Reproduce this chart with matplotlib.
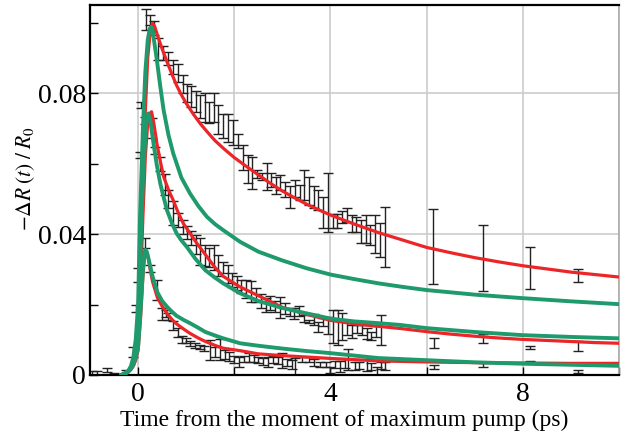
import matplotlib
matplotlib.use('Agg')
import matplotlib.pyplot as plt
from matplotlib.ticker import MultipleLocator

plt.rcParams['font.family'] = ['Liberation Serif', 'DejaVu Serif']
plt.rcParams['font.serif'] = ['Liberation Serif', 'DejaVu Serif']
plt.rcParams['mathtext.fontset'] = 'stix'

SERIF = ['Liberation Serif', 'DejaVu Serif']

# 数据组 A（最高）
a_t = [0.17, 0.25, 0.33, 0.42, 0.52, 0.63, 0.73, 0.83, 0.93, 1.01, 1.10, 1.20, 1.29, 1.39,
       1.48, 1.57, 1.67, 1.77, 1.87, 1.98, 2.08, 2.18, 2.28, 2.37, 2.47, 2.57, 2.67, 2.77,
       2.87, 2.96, 3.06, 3.16, 3.26, 3.36, 3.46, 3.55, 3.65, 3.75, 3.85, 3.95, 4.05, 4.14,
       4.24, 4.34, 4.44, 4.54, 4.64, 4.73, 4.83, 4.93, 5.03, 5.13, 6.14, 7.17, 8.15, 9.15]
a_y = [0.1009, 0.1007, 0.0985, 0.0924, 0.0915, 0.0898, 0.0875, 0.0857, 0.0825, 0.0800,
       0.0790, 0.0775, 0.0761, 0.0759, 0.0745, 0.0759, 0.0725, 0.0707, 0.0700, 0.0688,
       0.0664, 0.0617, 0.0584, 0.0574, 0.0570, 0.0563, 0.0563, 0.0553, 0.0539, 0.0546,
       0.0527, 0.0504, 0.0530, 0.0518, 0.0539, 0.0522, 0.0504, 0.0496, 0.0461, 0.0489,
       0.0437, 0.0437, 0.0447, 0.0454, 0.0430, 0.0428, 0.0407, 0.0414, 0.0397, 0.0400,
       0.0383, 0.0392, 0.0364, 0.0332, 0.0303, 0.0282]
a_e = [0.0031, 0.0014, 0.0020, 0.0031, 0.0020, 0.0019, 0.0020, 0.0025, 0.0025, 0.0026,
       0.0030, 0.0030, 0.0033, 0.0040, 0.0030, 0.0040, 0.0040, 0.0035, 0.0040, 0.0035,
       0.0021, 0.0035, 0.0040, 0.0045, 0.0012, 0.0010, 0.0038, 0.0019, 0.0024, 0.0021,
       0.0021, 0.0031, 0.0024, 0.0021, 0.0043, 0.0040, 0.0031, 0.0028, 0.0045, 0.0083,
       0.0021, 0.0021, 0.0017, 0.0019, 0.0024, 0.0021, 0.0033, 0.0040, 0.0028, 0.0054,
       0.0047, 0.0085, 0.0106, 0.0093, 0.0059, 0.0018]

# 数据组 B（中间）
b_t = [0.03, 0.06, 0.14, 0.28, 0.35, 0.45, 0.55, 0.63, 0.73, 0.83, 0.94, 1.01, 1.10, 1.20,
       1.29, 1.39, 1.48, 1.57, 1.67, 1.77, 1.87, 1.96, 2.06, 2.15, 2.25, 2.35, 2.45, 2.55,
       2.65, 2.75, 2.85, 2.95, 3.05, 3.15, 3.25, 3.35, 3.45, 3.55, 3.65, 3.75, 3.85, 3.95,
       4.05, 4.15, 4.25, 4.35, 4.45, 4.55, 4.65, 4.75, 4.85, 4.95, 5.05, 6.16, 7.17, 8.15,
       9.15]
b_y = [0.0624, 0.0767, 0.0723, 0.0700, 0.0638, 0.0600, 0.0540, 0.0500, 0.0460, 0.0440,
       0.0420, 0.0405, 0.0390, 0.0370, 0.0350, 0.0340, 0.0333, 0.0333, 0.0310, 0.0305,
       0.0287, 0.0270, 0.0262, 0.0252, 0.0244, 0.0237, 0.0228, 0.0210, 0.0199, 0.0205,
       0.0195, 0.0191, 0.0188, 0.0178, 0.0175, 0.0182, 0.0160, 0.0152, 0.0158, 0.0137,
       0.0150, 0.0140, 0.0137, 0.0135, 0.0137, 0.0132, 0.0123, 0.0130, 0.0128, 0.0118,
       0.0111, 0.0124, 0.0128, 0.0091, 0.0103, 0.0078, 0.0083]
b_e = [0.0008, 0.0008, 0.0010, 0.0028, 0.0010, 0.0020, 0.0030, 0.0025, 0.0033, 0.0020,
       0.0020, 0.0019, 0.0020, 0.0028, 0.0038, 0.0030, 0.0026, 0.0035, 0.0030, 0.0016,
       0.0026, 0.0020, 0.0020, 0.0018, 0.0025, 0.0030, 0.0020, 0.0020, 0.0019, 0.0020,
       0.0015, 0.0030, 0.0015, 0.0012, 0.0015, 0.0014, 0.0010, 0.0005, 0.0015, 0.0014,
       0.0012, 0.0025, 0.0047, 0.0050, 0.0038, 0.0018, 0.0018, 0.0012, 0.0015, 0.0015,
       0.0012, 0.0015, 0.0043, 0.0015, 0.0013, 0.0003, 0.0014]

# 数据组 C（最低）
c_t = [-0.96, -0.85, -0.65, -0.50, -0.25, -0.10, -0.05, 0.00, 0.15, 0.25, 0.39, 0.49, 0.59,
       0.63, 0.73, 0.83, 0.91, 1.00, 1.08, 1.18, 1.28, 1.38, 1.50, 1.60, 1.70, 1.80, 1.90,
       2.00, 2.10, 2.20, 2.30, 2.40, 2.50, 2.60, 2.70, 2.80, 2.90, 3.00, 3.10, 3.20, 3.26,
       3.40, 3.56, 3.66, 3.78, 3.90, 4.00, 4.10, 4.20, 4.30, 4.37, 4.50, 4.60, 4.75, 4.85,
       4.96, 5.06, 5.13, 6.16, 7.17, 8.15, 9.15]
c_y = [0.0006, 0.0006, 0.0014, 0.0003, 0.0005, 0.0065, 0.0190, 0.0285, 0.0375, 0.0303,
       0.0241, 0.0173, 0.0175, 0.0165, 0.0140, 0.0120, 0.0100, 0.0098, 0.0090, 0.0084,
       0.0080, 0.0075, 0.0071, 0.0065, 0.0072, 0.0058, 0.0052, 0.0045, 0.0038, 0.0045,
       0.0050, 0.0046, 0.0042, 0.0038, 0.0038, 0.0045, 0.0041, 0.0041, 0.0035, 0.0030,
       0.0025, 0.0044, 0.0044, 0.0035, 0.0029, 0.0030, 0.0014, 0.0030, 0.0024, 0.0032,
       0.0045, 0.0026, 0.0028, 0.0031, 0.0025, 0.0012, 0.0028, 0.0026, 0.0023, 0.0028,
       0.0038, 0.0010]
c_e = [0.0005, 0.0005, 0.0006, 0.0002, 0.0008, 0.0015, 0.0010, 0.0020, 0.0015, 0.0010,
       0.0028, 0.0017, 0.0010, 0.0010, 0.0012, 0.0012, 0.0010, 0.0008, 0.0007, 0.0007,
       0.0005, 0.0007, 0.0028, 0.0015, 0.0030, 0.0012, 0.0012, 0.0010, 0.0014, 0.0008,
       0.0012, 0.0010, 0.0008, 0.0010, 0.0014, 0.0010, 0.0010, 0.0020, 0.0010, 0.0012,
       0.0024, 0.0008, 0.0006, 0.0010, 0.0007, 0.0006, 0.0009, 0.0010, 0.0016, 0.0012,
       0.0030, 0.0012, 0.0010, 0.0020, 0.0010, 0.0012, 0.0010, 0.0012, 0.0006, 0.0005,
       0.0002, 0.0003]

# 红色拟合曲线
ra_t = [-0.35, -0.3, -0.25, -0.2, -0.15, -0.1, -0.05, 0.0, 0.05, 0.1, 0.15, 0.2, 0.25, 0.3,
        0.35, 0.4, 0.5, 0.6, 0.7, 0.8, 0.9, 1.0, 1.15, 1.3, 1.45, 1.6, 1.8, 2.0, 2.25, 2.5,
        2.75, 3.0, 3.25, 3.5, 3.75, 4.0, 4.5, 5.0, 5.5, 6.0, 6.5, 7.0, 7.5, 8.0, 8.5, 9.0,
        9.5, 10.0]
ra_y = [0.0, 0.0003, 0.0007, 0.0012, 0.0022, 0.0040, 0.0070, 0.0120, 0.0300, 0.0550,
        0.0750, 0.0900, 0.0970, 0.0998, 0.0987, 0.0965, 0.0925, 0.0889, 0.0855, 0.0822,
        0.0795, 0.0771, 0.0740, 0.0712, 0.0688, 0.0665, 0.0640, 0.0617, 0.0592, 0.0568,
        0.0544, 0.0522, 0.0503, 0.0485, 0.0469, 0.0454, 0.0428, 0.0404, 0.0383, 0.0362,
        0.0347, 0.0333, 0.0321, 0.0310, 0.0301, 0.0292, 0.0285, 0.0278]
rb_t = [-0.35, -0.3, -0.25, -0.2, -0.15, -0.1, -0.05, 0.0, 0.05, 0.1, 0.15, 0.2, 0.24, 0.28,
        0.33, 0.39, 0.46, 0.53, 0.63, 0.73, 0.83, 0.94, 1.08, 1.22, 1.43, 1.6, 1.77, 2.0,
        2.12, 2.5, 3.0, 3.5, 4.0, 4.5, 5.0, 5.45, 6.0, 6.5, 7.0, 7.5, 8.0, 8.5, 9.0, 9.5,
        10.0]
rb_y = [0.0, 0.0003, 0.0006, 0.0010, 0.0018, 0.0030, 0.0055, 0.0100, 0.0250, 0.0450,
        0.0620, 0.0715, 0.0742, 0.0747, 0.0712, 0.0657, 0.0608, 0.0563, 0.0526, 0.0496,
        0.0462, 0.0430, 0.0402, 0.0374, 0.0336, 0.0305, 0.0280, 0.0260, 0.0250, 0.0225,
        0.0192, 0.0172, 0.0155, 0.0145, 0.0138, 0.0132, 0.0123, 0.0116, 0.0110, 0.0105,
        0.0101, 0.0098, 0.0095, 0.0092, 0.0090]
rc_t = [-0.35, -0.3, -0.25, -0.2, -0.15, -0.1, -0.05, 0.0, 0.05, 0.1, 0.13, 0.17, 0.21,
        0.25, 0.3, 0.4, 0.5, 0.6, 0.7, 0.8, 0.95, 1.08, 1.25, 1.4, 1.6, 1.77, 2.12, 2.5, 3.0,
        3.5, 4.0, 5.0, 6.0, 7.0, 8.0, 9.0, 10.0]
rc_y = [0.0, 0.0002, 0.0005, 0.0010, 0.0016, 0.0025, 0.0042, 0.0070, 0.0160, 0.0280,
        0.0330, 0.0350, 0.0332, 0.0300, 0.0265, 0.0220, 0.0195, 0.0175, 0.0158, 0.0145,
        0.0130, 0.0118, 0.0105, 0.0095, 0.0084, 0.0076, 0.0069, 0.0060, 0.0055, 0.0051,
        0.0047, 0.0040, 0.0037, 0.0035, 0.0034, 0.0033, 0.0033]

# 绿色拟合曲线
ga_t = [-0.35, -0.3, -0.25, -0.2, -0.15, -0.1, -0.05, 0.0, 0.04, 0.1, 0.15, 0.2, 0.24,
        0.27, 0.3, 0.33, 0.39, 0.46, 0.53, 0.63, 0.73, 0.9, 1.08, 1.25, 1.43, 1.6, 1.77,
        2.12, 2.5, 3.0, 3.5, 4.0, 4.5, 5.0, 5.5, 6.0, 7.0, 8.0, 9.0, 10.0]
ga_y = [0.0, 0.0003, 0.0007, 0.0013, 0.0025, 0.0050, 0.0100, 0.0200, 0.0450, 0.0700,
        0.0860, 0.0950, 0.0982, 0.0988, 0.0980, 0.0950, 0.0894, 0.0820, 0.0752, 0.0682,
        0.0629, 0.0560, 0.0515, 0.0480, 0.0449, 0.0428, 0.0411, 0.0378, 0.0350, 0.0325,
        0.0303, 0.0285, 0.0272, 0.0260, 0.0250, 0.0241, 0.0228, 0.0218, 0.0209, 0.0201]
gb_t = [-0.35, -0.3, -0.25, -0.2, -0.15, -0.1, -0.05, 0.0, 0.05, 0.1, 0.15, 0.18, 0.21,
        0.25, 0.32, 0.39, 0.46, 0.53, 0.6, 0.7, 0.8, 0.9, 1.01, 1.19, 1.4, 1.6, 1.77, 2.12,
        2.5, 3.0, 3.5, 4.0, 4.5, 5.0, 5.45, 6.0, 7.0, 8.0, 9.0, 10.0]
gb_y = [0.0, 0.0003, 0.0006, 0.0010, 0.0018, 0.0030, 0.0070, 0.0150, 0.0350, 0.0550,
        0.0680, 0.0728, 0.0742, 0.0725, 0.0657, 0.0595, 0.0544, 0.0505, 0.0468, 0.0432,
        0.0402, 0.0382, 0.0364, 0.0330, 0.0297, 0.0276, 0.0260, 0.0232, 0.0210, 0.0190,
        0.0175, 0.0160, 0.0152, 0.0147, 0.0142, 0.0133, 0.0122, 0.0113, 0.0108, 0.0104]
gc_t = [-0.35, -0.3, -0.25, -0.2, -0.15, -0.1, -0.05, 0.0, 0.05, 0.1, 0.13, 0.15, 0.18,
        0.2, 0.25, 0.3, 0.4, 0.5, 0.6, 0.7, 0.8, 0.95, 1.08, 1.25, 1.4, 1.6, 1.77, 2.12, 2.5,
        3.0, 3.5, 4.0, 4.5, 5.0, 6.0, 7.0, 8.0, 9.0, 10.0]
gc_y = [0.0, 0.0002, 0.0005, 0.0010, 0.0017, 0.0030, 0.0050, 0.0080, 0.0180, 0.0300,
        0.0345, 0.0355, 0.0350, 0.0340, 0.0310, 0.0280, 0.0235, 0.0210, 0.0194, 0.0180,
        0.0168, 0.0156, 0.0147, 0.0134, 0.0122, 0.0112, 0.0104, 0.0090, 0.0083, 0.0075,
        0.0068, 0.0062, 0.0055, 0.0048, 0.0042, 0.0036, 0.0032, 0.0029, 0.0026]

red = '#ec2528'
green = '#1f9a6c'

fig = plt.figure(figsize=(6.26, 4.37), dpi=100)
ax = fig.add_axes([0.1438, 0.1419, 0.8450, 0.8467])

for t, y, e in [(a_t, a_y, a_e), (b_t, b_y, b_e), (c_t, c_y, c_e)]:
    ax.errorbar(t, y, yerr=e, fmt='none', ecolor='#222222', elinewidth=1.0,
                capsize=3.8, capthick=1.0, zorder=2)

for t, y in [(ra_t, ra_y), (rb_t, rb_y), (rc_t, rc_y)]:
    ax.plot(t, y, color=red, lw=2.3, zorder=3, solid_capstyle='round',
            solid_joinstyle='round')
for t, y in [(ga_t, ga_y), (gb_t, gb_y), (gc_t, gc_y)]:
    ax.plot(t, y, color=green, lw=2.8, zorder=4, solid_capstyle='round',
            solid_joinstyle='round')

ax.set_xlim(-1, 10)
ax.set_ylim(0, 0.105)
ax.xaxis.set_minor_locator(MultipleLocator(2))
ax.yaxis.set_minor_locator(MultipleLocator(0.02))
ax.set_xticks([0, 4, 8])
ax.set_xticklabels(['0', '4', '8'], fontfamily=SERIF, fontsize=20)
ax.set_yticks([0, 0.04, 0.08])
ax.set_yticklabels(['0', '0.04', '0.08'], fontfamily=SERIF, fontsize=20)

ax.grid(True, which='both', axis='x', color='#cccccc', lw=1.2, zorder=0)
ax.grid(True, which='major', axis='y', color='#cccccc', lw=1.2, zorder=0)
ax.set_axisbelow(True)

ax.tick_params(which='both', direction='in', top=False, right=False,
               length=6, width=1.0)
ax.tick_params(axis='y', pad=3)
ax.tick_params(axis='x', pad=5)

for s in ['left', 'top', 'bottom']:
    ax.spines[s].set_color('black')
    ax.spines[s].set_linewidth(1.6)
ax.spines['right'].set_color('#aaaaaa')
ax.spines['right'].set_linewidth(1.2)

ax.set_xlabel('Time from the moment of maximum pump (ps)', fontsize=17,
              fontfamily=SERIF)
ax.xaxis.set_label_coords(0.48, -0.095)
ax.set_ylabel(r'$-\Delta R\;(t)\;/\;R_0$', fontsize=15.5)
ax.yaxis.set_label_coords(-0.10, 0.53)

fig.savefig('out.png', dpi=100)
